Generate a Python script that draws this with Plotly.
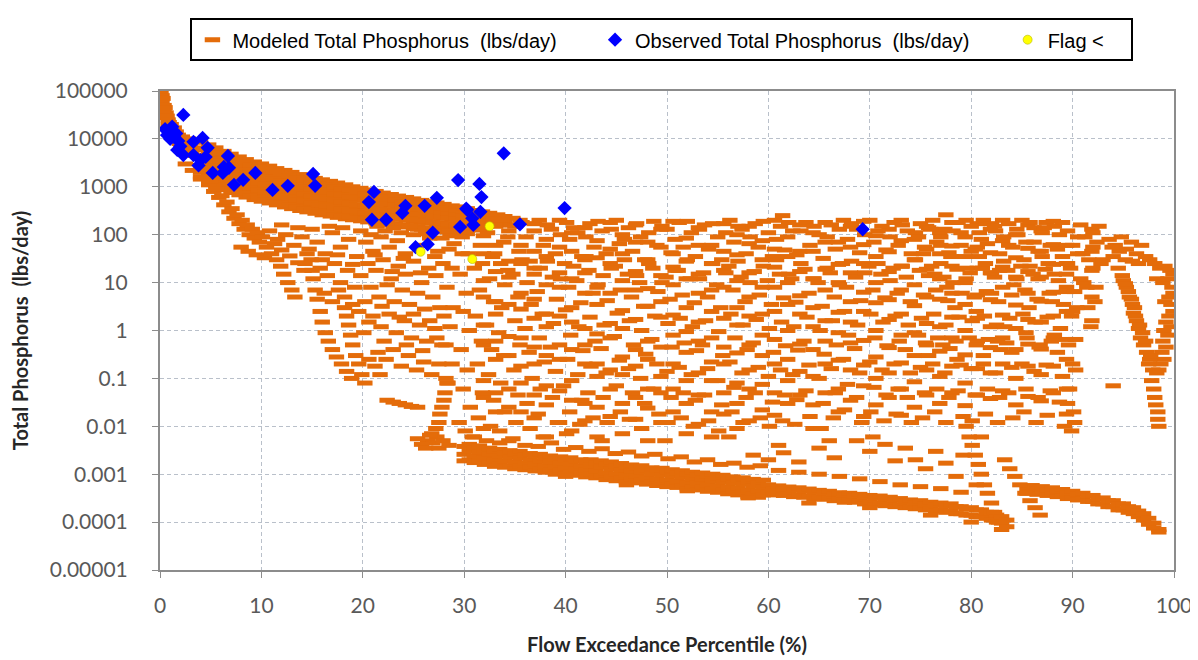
import plotly.graph_objects as go

# ---------------- Observed / flag data ----------------
OBS_X = [0.5, 0.7, 0.9, 1.0, 1.2, 1.4, 1.6, 1.8, 2.0, 2.3, 3.3, 4.2, 4.7, 1.7, 2.3, 3.3, 4.5, 3.8, 4.0, 5.2,
         6.7, 6.3, 6.8, 6.2, 7.3, 8.2, 9.4, 11.1, 12.6, 15.1, 15.3, 20.6, 21.1, 20.9, 22.3, 24.2, 23.9, 26.1,
         27.3, 26.9, 26.4, 25.2, 29.4, 30.3, 31.6, 30.9, 29.6, 30.8, 35.5, 39.9, 31.5, 31.7, 30.2, 33.9, 69.3]
OBS_Y = [16000, 12000, 14000, 10000, 18000, 11000, 13000, 9000, 7000, 31600, 8700, 10500, 6500, 5900, 4600,
         4600, 4200, 2800, 3600, 1950, 4400, 2600, 2500, 1950, 1100, 1400, 1950, 860, 1050, 1850, 1050, 480,
         780, 205, 205, 400, 285, 400, 590, 110, 63, 55, 1380, 330, 300, 160, 145, 220, 165, 360, 1150, 610,
         350, 5000, 130]
FLAG_X = [25.7, 32.5, 30.8]
FLAG_Y = [44, 150, 31]

# ---------------- Modeled data ----------------
MOD_HEAD = [(0.1, 90000), (0.2, 80000), (0.2, 60000), (0.3, 70000), (0.4, 50000), (0.4, 40000), (0.5, 45000),
            (0.6, 35000), (0.6, 28000), (0.7, 30000), (0.8, 25000), (0.8, 20000), (0.9, 22000), (1.0, 18000),
            (1.0, 15000), (1.1, 20000), (1.2, 16000), (1.3, 13000), (1.4, 17000), (1.5, 11000), (1.6, 14000),
            (1.7, 9000), (1.8, 12000), (1.9, 8000), (2.0, 10000), (2.1, 7000), (2.2, 11000), (2.4, 9000),
            (2.5, 6500), (2.6, 8000), (2.8, 10000), (2.9, 6000), (3.0, 7500), (3.1, 5000), (3.3, 9000),
            (3.4, 6000), (3.5, 4500)]

MOD_UPPER_BAND = [
    (4.0, [8500, 6000, 4000, 2800, 2000, 1450]), (4.8, [7500, 5000, 3500, 2400, 1700, 1250]),
    (5.5, [6500, 4500, 3000, 2000, 1400, 1000]), (6.3, [5500, 3800, 2600, 1800, 1200, 870]),
    (7.0, [4800, 3300, 2300, 1600, 1050, 760]), (7.8, [4200, 2900, 2000, 1400, 950, 680]),
    (8.5, [3700, 2600, 1800, 1250, 850, 610]), (9.3, [3300, 2300, 1600, 1100, 750, 540]),
    (10.0, [3000, 2100, 1450, 1000, 700, 500]), (10.8, [2700, 1900, 1300, 900, 640, 460]),
    (11.5, [2400, 1700, 1200, 820, 580, 420]), (12.3, [2200, 1550, 1100, 760, 530, 380]),
    (13.0, [2000, 1400, 1000, 700, 490, 350]), (13.8, [1800, 1300, 920, 650, 450, 320]),
    (14.5, [1650, 1200, 850, 600, 420, 300]), (15.3, [1500, 1100, 780, 550, 390, 280]),
    (16.0, [1400, 1000, 720, 510, 360, 260]), (16.8, [1300, 930, 670, 480, 340, 245]),
    (17.5, [1200, 870, 630, 450, 320, 230]), (18.3, [1100, 810, 590, 420, 300, 215]),
    (19.0, [1000, 760, 550, 400, 285, 205]), (19.8, [930, 700, 520, 380, 270, 195]),
    (20.5, [860, 650, 490, 360, 255, 185]), (21.3, [800, 610, 460, 340, 240, 175]),
    (22.0, [740, 570, 430, 320, 230, 165]), (22.8, [690, 530, 410, 300, 220, 160]),
    (23.5, [640, 500, 390, 290, 210, 150]), (24.3, [600, 470, 370, 275, 200, 145]),
    (25.0, [560, 440, 350, 260, 190, 135]), (25.8, [520, 420, 330, 250, 180, 130]),
    (26.5, [490, 400, 310, 240, 175, 125]), (27.3, [460, 380, 300, 230, 170, 120]),
    (28.0, [430, 360, 285, 220, 160, 115]), (28.8, [400, 340, 270, 210, 155, 110]),
    (29.5, [380, 320, 260, 200, 150, 108]), (30.3, [350, 300, 245, 190, 145, 105]),
    (31.0, [320, 270, 220, 170, 125]), (31.8, [300, 250, 200, 150]), (32.5, [280, 230, 180]),
    (33.3, [260, 210, 160]), (34.0, [240, 180]), (34.8, [220, 160]), (35.5, [200])
]
MOD_UPPER_BAND_MID = [
    (4.4, [6500, 4600, 3100, 2150, 1540]), (5.2, [5800, 3850, 2700, 1850, 1300]),
    (5.9, [5000, 3450, 2300, 1540, 1080]), (6.7, [4250, 2900, 2000, 1380, 920]),
    (7.4, [3700, 2550, 1770, 1230, 810]), (8.2, [3230, 2230, 1540, 1080, 730]),
    (8.9, [2850, 2000, 1380, 960, 650]), (9.7, [2540, 1770, 1230, 850, 580]),
    (10.4, [2300, 1620, 1120, 770, 540]), (11.2, [2080, 1460, 1000, 690, 490]),
    (11.9, [1850, 1310, 920, 630, 450]), (12.7, [1690, 1190, 850, 580, 410]),
    (13.4, [1540, 1080, 770, 540, 380]), (14.2, [1380, 1000, 710, 500, 350]),
    (14.9, [1270, 920, 650, 460, 320]), (15.7, [1150, 850, 600, 420, 300]),
    (16.4, [1080, 770, 550, 390, 280]), (17.2, [1000, 720, 520, 370, 260]),
    (17.9, [920, 670, 480, 350, 245]), (18.7, [850, 620, 450, 320, 230]),
    (19.4, [770, 580, 420, 310, 220]), (20.2, [720, 540, 400, 290, 210]),
    (20.9, [660, 500, 380, 280, 200]), (21.7, [620, 470, 350, 260, 185]),
    (22.4, [570, 440, 330, 250, 175]), (23.2, [530, 410, 315, 230, 170]),
    (23.9, [490, 385, 300, 220, 160]), (24.7, [460, 360, 285, 210, 155]),
    (25.4, [430, 340, 270, 200, 145]), (26.2, [400, 320, 255, 190, 140]),
    (26.9, [375, 310, 240, 185, 135]), (27.7, [355, 290, 230, 175, 130]),
    (28.4, [330, 275, 220, 170, 125]), (29.2, [310, 260, 210, 160, 120]),
    (29.9, [290, 245, 200, 155, 115]), (30.7, [270, 225, 185, 140]), (31.4, [250, 205, 165]),
    (32.2, [230, 190, 150]), (32.9, [215, 175]), (33.7, [200, 160]),
]

MOD_LEFT_STREAKS = [
    (2.5, 3000), (3.2, 2200), (4.0, 1600), (4.8, 1100), (5.3, 800), (5.8, 600), (6.3, 420), (6.8, 300),
    (7.3, 220), (7.8, 170), (8.3, 130), (8.8, 100), (9.3, 85), (9.8, 70), (8.0, 55), (8.7, 45), (9.5, 38),
    (10.3, 33), (10.5, 55), (11.0, 40), (11.5, 30), (11.9, 22), (12.2, 15), (12.6, 10), (13.0, 7), (13.3, 5),
    (14.5, 40), (14.9, 30), (15.0, 18), (15.1, 12), (15.3, 7), (15.5, 4.5), (15.8, 2.5), (16.0, 1.5),
    (16.3, 0.9), (16.6, 0.6), (17.0, 0.4), (17.4, 0.28), (17.9, 0.2), (18.4, 0.14), (18.9, 0.1),
    (18.2, 3), (18.4, 2), (18.6, 1.3), (18.8, 0.8), (19.0, 0.5), (19.3, 0.3), (19.6, 0.2), (19.9, 0.12),
    (20.2, 0.08), (20.6, 0.25), (21.2, 0.18), (21.7, 0.12),
    (22.4, 0.035), (23.0, 0.032), (23.6, 0.03), (24.2, 0.028), (24.8, 0.026), (25.4, 0.025),
    (28.3, 0.08), (28.1, 0.05), (28.0, 0.035), (27.8, 0.025), (27.6, 0.018), (27.5, 0.012), (27.2, 0.009),
    (26.8, 0.007), (27.3, 0.006), (26.4, 0.005), (26.9, 0.0045), (25.8, 0.0042), (26.2, 0.0035),
    (27.5, 0.0035), (25.4, 0.0055), (26.6, 0.0065), (27.9, 0.005), (28.5, 0.004),
    (5.0, 1300), (5.6, 900), (6.1, 650), (6.6, 480), (7.1, 350), (7.6, 260), (8.1, 200), (8.6, 160),
    (9.1, 130), (9.6, 110), (10.1, 90), (11.3, 65), (12.0, 48), (12.8, 36), (13.6, 26), (14.2, 18),
]

MOD_LEFT_CLOUD = [
    (15.8, 20), (16.5, 14), (17.2, 25), (17.8, 10), (18.5, 18), (19.2, 8), (19.8, 14), (16.2, 6), (17.0, 4),
    (17.6, 7), (18.2, 5), (19.0, 3.5), (19.6, 2.5), (20.2, 4),
    (10.8, 120), (11.6, 80), (12.4, 100), (13.2, 60), (14.0, 90), (14.7, 50), (15.5, 70), (16.3, 40),
    (17.0, 110), (17.8, 55), (18.6, 80), (19.4, 35), (12.0, 160), (13.6, 140), (15.0, 130), (16.7, 150),
    (18.0, 140), (19.8, 120), (14.3, 25), (16.0, 30), (17.5, 38), (19.0, 24),
    (20.3, 70), (21.0, 45), (21.8, 90), (22.6, 55), (23.4, 75), (24.2, 40), (25.0, 100), (25.8, 60),
    (26.6, 85), (27.4, 45), (28.2, 120), (29.0, 65), (29.8, 40), (20.8, 100), (22.2, 120), (23.8, 110),
    (25.4, 130), (27.0, 115), (28.6, 95), (21.4, 150), (23.0, 140), (24.6, 150), (26.2, 105), (27.8, 85),
    (20.5, 25), (21.3, 18), (22.0, 30), (22.8, 12), (23.5, 22), (24.2, 15), (25.0, 28), (25.8, 10),
    (26.5, 20), (27.2, 14), (27.9, 25), (20.8, 8), (21.6, 5), (22.4, 9), (23.1, 4), (23.9, 7), (24.6, 3.5),
    (25.4, 6), (26.1, 2.8), (26.9, 5), (27.6, 3), (21.0, 2), (21.8, 1.2), (22.6, 2.2), (23.3, 0.9),
    (24.1, 1.6), (24.8, 0.7), (25.6, 1.3), (26.3, 0.6), (27.1, 1.1), (27.8, 0.5), (21.5, 0.35), (22.3, 0.25),
    (23.0, 0.4), (23.8, 0.18), (24.5, 0.3), (25.3, 0.15), (26.0, 0.22), (26.8, 0.12), (27.5, 0.2),
    (28.2, 0.1), (28.5, 50), (28.8, 20), (28.3, 8), (28.9, 3), (28.6, 1.2), (28.2, 0.5), (28.8, 0.2),
    (28.4, 0.08), (29.8, 90), (30.4, 40), (29.6, 15), (30.2, 6), (29.9, 2.5), (30.5, 1), (29.7, 0.4),
    (30.3, 0.15), (29.9, 0.06), (30.6, 0.025), (29.5, 0.012), (30.1, 0.008),
    (21.2, 38), (22.9, 17), (24.0, 32), (25.7, 16), (27.1, 35), (21.9, 3.2), (23.6, 1.9), (25.0, 2.2),
    (26.6, 1.6), (28.0, 2), (22.1, 0.6), (24.3, 0.5), (25.9, 0.38), (27.3, 0.7), (20.1, 0.9), (20.6, 1.5),
]

MOD_CLOUD = [
    (31.2, 180), (31.6, 60), (31.0, 20), (31.5, 7), (31.1, 2), (31.7, 0.6), (31.3, 0.2), (31.8, 0.05), (31.4, 0.015), (31.0, 0.006),
    (32.3, 110), (32.8, 35), (32.5, 12), (32.9, 4), (32.2, 1.3), (32.7, 0.4), (32.4, 0.12), (32.9, 0.035), (32.6, 0.01),
    (33.5, 200), (33.9, 70), (33.6, 25), (34.0, 9), (33.7, 3), (33.4, 0.9), (33.9, 0.3), (33.6, 0.08), (34.0, 0.02), (33.5, 0.008),
    (35.0, 150), (35.4, 45), (34.8, 15), (35.3, 5), (35.0, 1.6), (35.5, 0.5), (34.9, 0.15), (35.3, 0.045), (35.1, 0.012),
    (36.1, 90), (36.5, 28), (36.2, 10), (36.6, 3.5), (36.0, 1.1), (36.4, 0.35), (36.7, 0.1), (36.2, 0.03), (36.5, 0.009),
    (37.4, 200), (37.8, 60), (37.5, 20), (37.2, 6.5), (37.7, 2.2), (37.4, 0.7), (37.9, 0.22), (37.5, 0.06), (37.3, 0.018), (37.8, 0.006),
    (38.6, 130), (39.0, 40), (38.7, 13), (39.1, 4.5), (38.8, 1.4), (38.5, 0.45), (39.0, 0.14), (38.7, 0.04), (39.2, 0.012),
    (40.1, 180), (40.4, 80), (39.9, 25), (40.3, 8), (40.0, 2.7), (40.5, 0.8), (40.2, 0.25), (39.8, 0.07), (40.4, 0.02), (40.1, 0.007),
    (41.2, 110), (41.6, 35), (41.1, 11), (41.5, 3.8), (41.3, 1.2), (41.7, 0.38), (41.2, 0.12), (41.6, 0.035), (41.4, 0.011),
    (42.4, 170), (42.8, 55), (42.3, 18), (42.7, 6), (42.4, 1.9), (42.9, 0.6), (42.5, 0.18), (42.2, 0.05), (42.7, 0.015),
    (43.6, 120), (44.0, 40), (43.7, 14), (44.1, 4.2), (43.8, 1.3), (43.5, 0.42), (44.0, 0.13), (43.7, 0.04), (44.1, 0.012), (43.6, 0.005),
    (45.0, 200), (45.3, 65), (44.9, 22), (45.4, 7), (45.1, 2.3), (44.8, 0.75), (45.3, 0.24), (45.0, 0.07), (45.4, 0.02),
    (46.2, 140), (46.6, 45), (46.1, 15), (46.5, 5), (46.3, 1.6), (46.7, 0.5), (46.2, 0.16), (46.6, 0.05), (46.3, 0.014),
    (47.4, 90), (47.8, 30), (47.3, 10), (47.7, 3.2), (47.5, 1), (47.9, 0.32), (47.4, 0.1), (47.8, 0.03), (47.5, 0.009),
    (48.7, 190), (49.0, 60), (48.6, 20), (49.1, 6.5), (48.8, 2), (48.5, 0.65), (49.0, 0.2), (48.7, 0.06), (49.2, 0.018),
    (50.0, 130), (50.4, 42), (49.9, 13), (50.3, 4.5), (50.1, 1.4), (50.5, 0.45), (50.0, 0.14), (50.4, 0.04), (50.1, 0.012), (49.8, 0.005),
    (51.2, 180), (51.6, 55), (51.1, 18), (51.5, 5.5), (51.3, 1.8), (51.7, 0.55), (51.2, 0.17), (51.6, 0.05), (51.4, 0.015),
    (52.4, 110), (52.8, 35), (52.3, 12), (52.7, 3.8), (52.5, 1.2), (52.9, 0.38), (52.4, 0.12), (52.8, 0.035), (52.6, 0.01),
    (53.7, 160), (54.1, 50), (53.6, 16), (54.0, 5), (53.8, 1.6), (53.5, 0.5), (54.0, 0.16), (53.7, 0.045), (54.1, 0.013),
    (55.0, 90), (55.4, 30), (54.9, 9), (55.3, 3), (55.1, 0.95), (55.5, 0.3), (55.0, 0.09), (55.4, 0.028), (55.1, 0.008),
    (56.2, 200), (56.6, 70), (56.1, 22), (56.5, 7), (56.3, 2.2), (56.7, 0.7), (56.2, 0.22), (56.6, 0.065), (56.4, 0.02), (56.1, 0.006),
    (57.4, 130), (57.8, 40), (57.3, 13), (57.7, 4), (57.5, 1.3), (57.9, 0.4), (57.4, 0.13), (57.8, 0.04), (57.5, 0.012),
    (58.7, 170), (59.0, 55), (58.6, 17), (59.1, 5.5), (58.8, 1.7), (58.5, 0.55), (59.0, 0.17), (58.7, 0.05), (59.2, 0.015),
    (60.0, 110), (60.4, 35), (59.9, 11), (60.3, 3.5), (60.1, 1.1), (60.5, 0.35), (60.0, 0.11), (60.4, 0.032), (60.1, 0.01),
    (61.4, 250), (61.2, 150), (61.6, 48), (61.1, 15), (61.5, 4.8), (61.3, 1.5), (61.7, 0.48), (61.2, 0.15), (61.6, 0.045), (61.4, 0.013), (61.0, 0.004),
    (62.4, 120), (62.8, 38), (62.3, 12), (62.7, 3.9), (62.5, 1.2), (62.9, 0.39), (62.4, 0.12), (62.8, 0.036), (62.6, 0.011),
    (63.7, 180), (64.1, 60), (63.6, 19), (64.0, 6), (63.8, 1.9), (63.5, 0.6), (64.0, 0.19), (63.7, 0.055), (64.1, 0.016),
    (65.0, 100), (65.4, 32), (64.9, 10), (65.3, 3.2), (65.1, 1), (65.5, 0.32), (65.0, 0.1), (65.4, 0.03), (65.2, 0.009),
    (66.2, 160), (66.6, 50), (66.1, 16), (66.5, 5), (66.3, 1.6), (66.7, 0.5), (66.2, 0.16), (66.6, 0.05), (66.4, 0.015), (66.0, 0.005),
    (67.4, 200), (67.8, 80), (67.3, 25), (67.7, 8), (67.5, 2.5), (67.9, 0.8), (67.4, 0.25), (67.8, 0.075), (67.5, 0.022),
    (68.7, 130), (69.0, 42), (68.6, 13), (69.1, 4.2), (68.8, 1.3), (68.5, 0.42), (69.0, 0.13), (68.7, 0.04), (69.2, 0.012),
    (70.0, 200), (70.4, 70), (69.9, 22), (70.3, 7), (70.1, 2.2), (70.5, 0.7), (70.0, 0.22), (70.4, 0.065), (70.1, 0.02), (70.3, 0.006),
    (71.2, 150), (71.6, 48), (71.1, 15), (71.5, 4.8), (71.3, 1.5), (71.7, 0.48), (71.2, 0.15), (71.6, 0.045), (71.4, 0.013),
    (72.4, 180), (72.8, 60), (72.3, 20), (72.7, 6), (72.5, 2), (72.9, 0.6), (72.4, 0.2), (72.8, 0.06), (72.6, 0.018),
    (73.7, 120), (74.1, 40), (73.6, 13), (74.0, 4), (73.8, 1.3), (73.5, 0.4), (74.0, 0.13), (73.7, 0.04), (74.1, 0.012),
    (75.0, 170), (75.4, 55), (74.9, 18), (75.3, 5.5), (75.1, 1.8), (75.5, 0.55), (75.0, 0.17), (75.4, 0.05), (75.2, 0.015),
    (76.2, 200), (76.6, 70), (76.1, 22), (76.5, 7), (76.3, 2.2), (76.7, 0.7), (76.2, 0.2), (76.6, 0.06), (76.4, 0.02),
    (77.5, 260), (77.4, 130), (77.8, 42), (77.3, 13), (77.7, 4.2), (77.5, 1.3), (77.9, 0.42), (77.4, 0.13), (77.8, 0.04), (77.5, 0.012),
    (78.7, 180), (79.0, 60), (78.6, 19), (79.1, 6), (78.8, 1.9), (78.5, 0.6), (79.0, 0.19), (78.7, 0.055), (79.2, 0.016),
    (80.0, 150), (80.4, 50), (79.9, 16), (80.3, 5), (80.1, 1.6), (80.5, 0.5), (80.0, 0.16), (80.4, 0.045), (80.1, 0.013),
    (81.2, 200), (81.6, 65), (81.1, 20), (81.5, 6.5), (81.3, 2), (81.7, 0.65), (81.2, 0.2), (81.6, 0.06), (81.4, 0.018), (81.0, 0.006),
    (82.4, 120), (82.8, 40), (82.3, 13), (82.7, 4), (82.5, 1.3), (82.9, 0.4), (82.4, 0.13), (82.8, 0.04), (82.6, 0.012),
    (83.7, 170), (84.1, 55), (83.6, 18), (84.0, 5.5), (83.8, 1.8), (83.5, 0.55), (84.0, 0.17), (83.7, 0.05), (84.1, 0.015),
    (85.0, 200), (85.4, 70), (84.9, 22), (85.3, 7), (85.1, 2.2), (85.5, 0.7), (85.0, 0.2), (85.4, 0.06), (85.2, 0.02),
    (86.2, 140), (86.6, 45), (86.1, 15), (86.5, 4.5), (86.3, 1.5), (86.7, 0.45), (86.2, 0.14), (86.6, 0.04), (86.4, 0.012),
    (87.4, 180), (87.8, 60), (87.3, 19), (87.7, 6), (87.5, 1.9), (87.9, 0.6), (87.4, 0.19), (87.8, 0.055), (87.5, 0.017),
    (88.7, 100), (89.0, 35), (88.6, 11), (89.1, 3.5), (88.8, 1.1), (88.5, 0.35), (89.0, 0.11), (88.7, 0.032), (89.2, 0.01),
    (90.0, 60), (89.8, 20), (90.2, 6.5), (89.9, 2), (90.3, 0.65), (90.0, 0.2), (89.7, 0.06), (90.1, 0.02), (89.9, 0.008),
    (91.2, 90), (91.6, 30), (91.1, 10), (91.5, 3), (92.4, 70), (92.8, 25), (92.3, 8), (94.0, 0.07),
    (89.6, 0.5), (90.3, 0.15), (89.5, 0.03), (90.2, 0.012), (90.4, 3), (89.4, 8), (90.5, 40),
]

MOD_CLOUD_2 = [
    (31.9, [95, 40, 11, 5, 1.3, 0.5, 0.09, 0.04, 0.009]), (33.1, [150, 60, 17, 4, 2.2, 0.6, 0.25, 0.05, 0.02]),
    (34.4, [120, 28, 13, 3.5, 0.75, 0.3, 0.06, 0.025, 0.005]), (35.6, [60, 25, 6, 2.8, 0.7, 0.18, 0.08, 0.02]),
    (36.9, [170, 45, 20, 4.5, 1.8, 0.45, 0.2, 0.045, 0.015]), (38.1, [80, 35, 9, 2.2, 1.2, 0.3, 0.07, 0.028, 0.006]),
    (39.4, [200, 55, 16, 8, 2, 0.5, 0.25, 0.055, 0.012]), (40.6, [110, 45, 12, 3, 1.5, 0.4, 0.09, 0.035, 0.008]),
    (41.9, [140, 30, 16, 6, 1.1, 0.5, 0.2, 0.03, 0.013]), (43.1, [75, 33, 8, 3.5, 0.85, 0.2, 0.11, 0.025, 0.006]),
    (44.4, [180, 50, 25, 6, 1.4, 0.7, 0.15, 0.06, 0.016]), (45.6, [100, 40, 11, 2.6, 1.1, 0.28, 0.12, 0.03, 0.007]),
    (46.9, [160, 70, 17, 7, 1.7, 0.4, 0.18, 0.04, 0.014]), (48.1, [70, 30, 7.5, 3.2, 0.6, 0.25, 0.06, 0.024, 0.005]),
    (49.4, [130, 55, 14, 4, 1.9, 0.45, 0.11, 0.05, 0.012]), (50.6, [190, 40, 21, 9, 2.1, 0.8, 0.2, 0.06, 0.02]),
    (51.9, [85, 28, 12, 3, 0.95, 0.35, 0.09, 0.03, 0.007]), (53.1, [140, 60, 15, 6, 1.5, 0.6, 0.13, 0.045, 0.011]),
    (54.4, [60, 25, 7, 2.5, 0.7, 0.22, 0.09, 0.02, 0.006]), (55.6, [170, 45, 18, 8, 1.8, 0.45, 0.2, 0.05, 0.018]),
    (56.9, [100, 38, 11, 3, 1.3, 0.34, 0.08, 0.03, 0.009]), (58.1, [150, 65, 16, 5, 2, 0.5, 0.15, 0.06, 0.013]),
    (59.4, [75, 30, 8, 2.2, 0.8, 0.3, 0.075, 0.022]), (60.6, [200, 50, 21, 8, 2.5, 0.65, 0.2, 0.05, 0.017]),
    (61.9, [90, 35, 10, 3.5, 1, 0.25, 0.09, 0.03]), (63.1, [160, 45, 17, 5.3, 2.2, 0.52, 0.14, 0.045]),
    (64.4, [110, 45, 12, 3, 1.2, 0.4, 0.11, 0.028, 0.009]), (65.6, [180, 70, 19, 7, 1.6, 0.6, 0.2, 0.05]),
    (66.9, [70, 24, 10, 2.4, 0.9, 0.24, 0.06, 0.02]), (68.1, [150, 55, 16, 4, 1.5, 0.55, 0.15, 0.035]),
    (69.4, [190, 62, 25, 6.3, 2.5, 0.62, 0.19, 0.07, 0.016]), (70.6, [95, 35, 10, 3.8, 1, 0.28, 0.1, 0.028]),
    (71.9, [130, 44, 17, 4.4, 1.7, 0.44, 0.13, 0.04]), (73.1, [200, 75, 22, 7, 2.2, 0.8, 0.21, 0.06, 0.017]),
    (74.4, [80, 30, 9, 3.3, 0.9, 0.3, 0.085, 0.025]), (75.6, [150, 50, 19, 5, 1.4, 0.5, 0.15, 0.045]),
    (76.9, [110, 40, 12, 4.5, 1.2, 0.37, 0.11, 0.03]), (78.1, [180, 58, 22, 6, 1.9, 0.7, 0.18, 0.05]),
    (79.4, [90, 35, 10, 3.5, 1, 0.31, 0.08, 0.027]), (80.6, [170, 55, 20, 5.5, 1.8, 0.6, 0.16, 0.045]),
    (81.9, [130, 42, 16, 4.4, 1.2, 0.44, 0.13, 0.038]), (83.1, [200, 75, 21, 8, 2.1, 0.7, 0.2, 0.055]),
    (84.4, [100, 33, 13, 3.4, 1.1, 0.4, 0.1, 0.028]), (85.6, [160, 52, 17, 6, 1.7, 0.52, 0.18, 0.042]),
    (86.9, [120, 45, 13, 4.1, 1.5, 0.41, 0.12, 0.034]), (88.1, [190, 62, 24, 6.3, 2, 0.7, 0.18, 0.05]),
    (89.4, [60, 25, 6.5, 2.5, 0.65, 0.25, 0.06, 0.018]), (91.9, [130, 45, 18, 5, 1.6]),
]

MOD_RIGHT_DENSE = [
    (74.8, 90), (75.3, 40), (76.0, 130), (76.4, 15), (77.0, 60), (77.6, 8), (78.0, 35), (78.4, 3), (79.0, 110),
    (79.5, 12), (80.0, 45), (80.5, 2.5), (81.0, 80), (81.4, 25), (82.0, 6), (82.3, 150), (82.8, 18), (83.3, 1.2),
    (83.7, 60), (84.2, 9), (84.6, 100), (85.2, 30), (85.7, 3), (86.2, 70), (86.6, 12), (87.2, 140), (87.6, 25),
    (88.0, 4), (88.5, 50), (89.0, 180), (89.4, 15), (90.0, 2.5), (90.5, 90), (91.0, 40), (91.4, 8), (92.0, 55),
    (92.6, 150), (93.0, 30), (92.2, 4), (91.8, 1.2), (88.2, 0.8), (86.8, 0.5), (85.4, 0.9), (84.0, 0.35),
    (82.6, 0.6), (81.2, 0.3), (79.8, 0.7), (78.6, 0.25), (77.2, 0.5), (75.8, 0.3), (74.8, 0.8),
]

MOD_CLOUD_TOP = [
    (31.8, 130), (33.0, 160), (34.3, 90), (35.7, 180), (36.9, 120), (38.2, 160), (39.5, 100), (40.8, 140),
    (42.0, 90), (43.2, 190), (44.5, 130), (45.8, 80), (47.0, 170), (48.2, 110), (49.5, 150), (50.8, 80),
    (52.0, 190), (53.2, 130), (54.5, 170), (55.8, 110), (57.0, 150), (58.2, 90), (59.5, 190), (60.8, 80),
    (62.0, 180), (63.2, 120), (64.5, 150), (65.8, 90), (67.0, 130), (68.2, 170), (69.5, 100), (70.8, 120),
    (72.0, 90), (73.2, 160), (74.5, 110), (75.8, 140), (77.0, 90), (78.2, 120), (79.5, 200), (80.8, 110),
    (82.0, 170), (83.2, 90), (84.5, 130), (85.8, 180), (87.0, 110), (88.2, 150), (89.5, 120), (90.8, 160),
    (92.0, 110),
    (31.8, 25), (33.0, 40), (34.3, 18), (35.7, 30), (36.9, 15), (38.2, 28), (39.5, 12), (40.8, 22), (42.0, 35),
    (43.2, 9), (44.5, 20), (45.8, 30), (47.0, 14), (48.2, 25), (49.5, 10), (50.8, 18), (52.0, 30), (53.2, 12),
    (54.5, 25), (55.8, 16), (57.0, 28), (58.2, 10), (59.5, 22), (60.8, 30), (62.0, 15), (63.2, 25), (64.5, 12),
    (65.8, 20), (67.0, 9), (68.2, 28), (69.5, 16), (70.8, 25), (72.0, 11), (73.2, 22), (74.5, 30), (75.8, 14),
    (77.0, 25), (78.2, 10), (79.5, 20), (80.8, 35), (82.0, 16), (83.2, 28), (84.5, 12), (85.8, 22), (87.0, 35),
    (88.2, 15), (89.5, 25), (90.8, 12), (92.0, 20),
]

MOD_LOWER_BAND = [
    (30, [0.0038, 0.0026, 0.0019]), (30.5, [0.0042, 0.0031, 0.002]), (31, [0.0035, 0.0024, 0.00175]),
    (31.5, [0.0039, 0.0029, 0.0019]), (32, [0.0032, 0.0022, 0.0016]), (32.5, [0.0035, 0.0026, 0.0017]),
    (33, [0.003, 0.002, 0.00146]), (33.5, [0.0033, 0.0024, 0.0016]), (34, [0.0028, 0.0019, 0.0014]),
    (34.5, [0.0031, 0.0023, 0.0015]), (35, [0.0027, 0.0018, 0.0013]), (35.5, [0.003, 0.0022, 0.0015]),
    (36, [0.0025, 0.0017, 0.00124]), (36.5, [0.0027, 0.002, 0.0014]), (37, [0.0024, 0.0016, 0.00117]),
    (37.5, [0.0026, 0.0019, 0.0013]), (38, [0.0022, 0.0015, 0.0011]), (38.5, [0.0024, 0.0018, 0.0012]),
    (39, [0.0021, 0.0014, 0.001]), (39.5, [0.0023, 0.0017, 0.0012]), (40, [0.002, 0.00135, 0.00099]),
    (40.5, [0.0022, 0.0016, 0.0011]), (41, [0.0019, 0.0013, 0.00095]), (41.5, [0.002, 0.0015, 0.00105]),
    (42, [0.0018, 0.0012, 0.00088]), (42.5, [0.002, 0.00145, 0.001]), (43, [0.0017, 0.00115, 0.00084]),
    (43.5, [0.0019, 0.0014, 0.00093]), (44, [0.0016, 0.00106, 0.00077]), (44.5, [0.0018, 0.0013, 0.00087]),
    (45, [0.0015, 0.001, 0.00073]), (45.5, [0.00167, 0.00123, 0.00083]), (46, [0.0014, 0.00095, 0.00069]),
    (46.5, [0.00156, 0.00115, 0.00078]), (47, [0.00135, 0.0009, 0.00066]), (47.5, [0.0015, 0.0011, 0.00074]),
    (48, [0.00125, 0.00085, 0.00062]), (48.5, [0.00136, 0.001, 0.00069]), (49, [0.0012, 0.0008, 0.00058]),
    (49.5, [0.00133, 0.00098, 0.00066]), (50, [0.0011, 0.00075, 0.00055]), (50.5, [0.00124, 0.00091, 0.00062]),
    (51, [0.00107, 0.00072, 0.00053]), (51.5, [0.00118, 0.00087, 0.00058]), (52, [0.001, 0.00067, 0.00049]),
    (52.5, [0.0011, 0.00081, 0.00055]), (53, [0.00096, 0.00065, 0.00047]), (53.5, [0.00106, 0.00078, 0.00053]),
    (54, [0.0009, 0.0006, 0.00044]), (54.5, [0.001, 0.00073, 0.00049]), (55, [0.00085, 0.00057, 0.00042]),
    (55.5, [0.00095, 0.0007, 0.00047]), (56, [0.0008, 0.00054, 0.00039]), (56.5, [0.00088, 0.00065, 0.00044]),
    (57, [0.00076, 0.00051, 0.00037]), (57.5, [0.00084, 0.00062, 0.00042]), (58, [0.0007, 0.00047, 0.00034]),
    (58.5, [0.00078, 0.00057, 0.00039]), (59, [0.00067, 0.00045, 0.00033]), (59.5, [0.00075, 0.00055, 0.00037]),
    (60, [0.0006, 0.00043]), (60.5, [0.0005, 0.00037]), (61, [0.00057, 0.00041]), (61.5, [0.00049, 0.00036]),
    (62, [0.00054, 0.00039]), (62.5, [0.00047, 0.00034]), (63, [0.00052, 0.00037]), (63.5, [0.00045, 0.00033]),
    (64, [0.00049, 0.00035]), (64.5, [0.00043, 0.00031]), (65, [0.00046, 0.00034]), (65.5, [0.0004, 0.0003]),
    (66, [0.00044, 0.00032]), (66.5, [0.00038, 0.00028]), (67, [0.00041, 0.0003]), (67.5, [0.00036, 0.00026]),
    (68, [0.0004, 0.00029]), (68.5, [0.00035, 0.00026]), (69, [0.00038, 0.00027]), (69.5, [0.00033, 0.00024]),
    (70, [0.00036, 0.00026]), (70.5, [0.00032, 0.00023]), (71, [0.00035, 0.00025]), (71.5, [0.0003, 0.00022]),
    (72, [0.00033, 0.00024]), (72.5, [0.00029, 0.00021]), (73, [0.00031, 0.00023]), (73.5, [0.00027, 0.0002]),
    (74, [0.00029, 0.00021]), (74.5, [0.00025, 0.00019]), (75, [0.00028, 0.0002]), (75.5, [0.00024, 0.00018]),
    (76, [0.00026, 0.00019]), (76.5, [0.00023, 0.00017]), (77, [0.00025, 0.00018]), (77.5, [0.00022, 0.00016]),
    (78, [0.00024, 0.00017]), (78.5, [0.00021, 0.00015]), (79, [0.00021, 0.00015]), (79.5, [0.00019, 0.00014]),
    (80, [0.0002, 0.00014]), (80.5, [0.00018, 0.00013]), (81, [0.00018, 0.00013]), (81.5, [0.00016, 0.00012]),
    (82, [0.00016, 0.00011]), (82.5, [0.00014, 0.0001]), (83, [0.00013, 0.000095]), (83.5, [0.00011, 0.00008]),
    (85.5, [0.0005, 0.0004]), (86, [0.00058, 0.00043]), (86.5, [0.00049, 0.00038]), (87, [0.00055, 0.0004]),
    (87.5, [0.00047, 0.00036]), (88, [0.00052, 0.00038]), (88.5, [0.00044, 0.00034]), (89, [0.00048, 0.00035]),
    (89.5, [0.00041, 0.00031]), (90, [0.00044, 0.00032]), (90.5, [0.00038, 0.00029]), (91, [0.0004, 0.0003]),
    (91.5, [0.00035, 0.00027]), (92, [0.00036, 0.00027]), (92.5, [0.00031, 0.00024]), (93, [0.00032, 0.00024]),
    (93.5, [0.00028, 0.00021]), (94, [0.00028, 0.00021]), (94.5, [0.00024, 0.00018]), (95, [0.00024, 0.00018]),
    (95.5, [0.00021, 0.00016]), (96, [0.0002, 0.00015]), (96.5, [0.00017, 0.00013]), (97, [0.00015, 0.00011]),
    (97.5, [0.00012, 0.00009]), (98, [0.000095, 0.000075]), (98.5, [0.00007, 0.000062]),
]

MOD_BETWEEN = [
    (30.8, 0.006), (32.2, 0.005), (33.5, 0.0045), (34.8, 0.0055), (36.0, 0.004), (37.3, 0.0038), (38.6, 0.0045),
    (39.8, 0.0033), (41.0, 0.0036), (42.3, 0.003), (43.6, 0.0034), (44.9, 0.0027), (46.2, 0.0029), (47.5, 0.0024),
    (48.8, 0.0026), (50.1, 0.0021), (51.4, 0.0023), (52.7, 0.0018), (54.0, 0.002), (55.3, 0.0016), (56.6, 0.0017),
    (57.9, 0.0014), (59.2, 0.0015), (61, 0.0012), (63, 0.0011), (65, 0.001), (67, 0.0009), (69, 0.0008),
    (71, 0.0007), (73, 0.0006), (75, 0.00055), (77, 0.0005), (79, 0.00042),
    (40, 0.0009), (46, 0.0006), (52, 0.00045), (58, 0.00032), (64, 0.00025), (70, 0.0002), (76, 0.00014), (80, 0.0001),
    (58.5, 0.0025), (60, 0.002), (61.5, 0.0028), (63, 0.0018), (65, 0.0035), (66.5, 0.0022), (68.7, 0.005),
    (70, 0.003), (71.5, 0.0042), (72.5, 0.0019), (73.5, 0.0035), (74.5, 0.002), (75.5, 0.0013), (76.5, 0.003),
    (77.5, 0.0017), (78.5, 0.0009), (79.2, 0.0025), (80.5, 0.0006),
    (79.5, 0.01), (79.8, 0.006), (80.1, 0.004), (80.4, 0.0025), (80.7, 0.0016), (81.0, 0.001), (81.3, 0.0006),
    (81.6, 0.0004), (82.0, 0.00025), (82.3, 0.00016), (82.7, 0.0001), (83.0, 0.00007),
    (83.3, 0.002), (83.8, 0.0013), (84.3, 0.0009), (84.8, 0.0006), (85.3, 0.0004), (85.8, 0.00028),
    (86.3, 0.0002), (86.8, 0.00014),
]

MOD_RIGHT_V = [
    (93.6, 80), (94.2, 60), (94.8, 90), (95.3, 50), (95.8, 70), (96.3, 40), (96.8, 60), (97.2, 35), (94.0, 35),
    (94.6, 45), (95.2, 30), (95.9, 28), (96.5, 25), (93.9, 55),
    (97.6, 30), (98.1, 25), (98.6, 20), (99.1, 22), (99.6, 18), (99.9, 15), (98.3, 12), (98.9, 10), (99.4, 12),
    (99.8, 8), (99.9, 6), (99.5, 5), (99.1, 4), (99.7, 3.5), (99.9, 2.5), (99.5, 2), (99.2, 1.5), (99.7, 1.2),
    (99.0, 1), (99.4, 0.8), (98.9, 0.6), (99.2, 0.45), (98.8, 0.35), (99.0, 0.25), (98.7, 0.2), (98.5, 0.15),
    (95.0, 11), (95.3, 8), (95.6, 5), (95.9, 3.5), (96.0, 2.3), (96.3, 1.6), (96.5, 1.1), (96.7, 0.7),
    (97.0, 0.5), (97.3, 0.35), (97.6, 0.25), (97.5, 0.2), (97.9, 0.15), (98.3, 0.13), (97.8, 0.09),
    (98.0, 0.06), (98.1, 0.04), (98.2, 0.028), (98.4, 0.02), (98.4, 0.014), (98.5, 0.01),
    (94.5, 20), (94.9, 14), (95.2, 9.5), (95.5, 6.5), (95.8, 4.5), (96.1, 3), (96.2, 2), (96.6, 1.3),
    (96.9, 0.9), (97.2, 0.6), (97.7, 0.3),
]

Y_TICK_VALS = [1e-5, 1e-4, 1e-3, 1e-2, 1e-1, 1, 10, 100, 1000, 10000, 100000]
Y_TICK_TEXT = ["0.00001", "0.0001", "0.001", "0.01", "0.1", "1", "10", "100", "1000", "10000", "100000"]
X_TICK_VALS = [0, 10, 20, 30, 40, 50, 60, 70, 80, 90, 100]

# ---------------- Assemble modeled points ----------------
pairs = []
pairs += MOD_HEAD
for rows in (MOD_UPPER_BAND, MOD_UPPER_BAND_MID, MOD_CLOUD_2, MOD_LOWER_BAND):
    for x, ys in rows:
        pairs += [(x, y) for y in ys]
pairs += MOD_LEFT_STREAKS + MOD_LEFT_CLOUD + MOD_CLOUD + MOD_CLOUD_TOP + MOD_RIGHT_DENSE
pairs += MOD_BETWEEN + MOD_RIGHT_V
MOD_X = [p[0] for p in pairs]
MOD_Y = [p[1] for p in pairs]

ORANGE = "#E46C0A"
NB = "\u00a0"

fig = go.Figure()
fig.add_trace(go.Scatter(
    x=MOD_X, y=MOD_Y, mode="markers",
    name="Modeled Total Phosphorus" + NB * 2 + "(lbs/day)" + NB * 6,
    marker=dict(symbol="line-ew", size=11, color=ORANGE, line=dict(width=5, color=ORANGE)),
))
fig.add_trace(go.Scatter(
    x=OBS_X, y=OBS_Y, mode="markers",
    name="Observed Total Phosphorus" + NB * 2 + "(lbs/day)" + NB * 6,
    marker=dict(symbol="diamond", size=11, color="#0000FF", line=dict(width=0)),
))
fig.add_trace(go.Scatter(
    x=FLAG_X, y=FLAG_Y, mode="markers", name="Flag <" + NB * 4,
    marker=dict(symbol="circle", size=9, color="#FFFF00", line=dict(width=0.6, color="#B8B800")),
))

GRID = "#B9C0CA"
AXIS = "#8C8C8C"
TICKFONT = dict(family="Lato, Carlito, sans-serif", size=21, color="#595959")

# the page body adds an 8px offset, so margins are shifted by 8px to place the plot area
fig.update_layout(
    width=1198, height=660,
    margin=dict(l=152, r=32, t=83, b=98, autoexpand=False),
    paper_bgcolor="white", plot_bgcolor="white",
    showlegend=True,
    legend=dict(
        orientation="h", x=0.495, xanchor="center", y=1.152, yanchor="top",
        bordercolor="black", borderwidth=2, bgcolor="white",
        font=dict(family="Liberation Sans Narrow, Arial Narrow, Liberation Sans, sans-serif", size=20, color="black"),
        itemwidth=30,
    ),
    xaxis=dict(
        range=[0, 100], tickvals=X_TICK_VALS, tickfont=TICKFONT, automargin=False,
        showgrid=True, gridcolor=GRID, griddash="4px,3px", gridwidth=1,
        showline=True, linecolor=AXIS, linewidth=2, mirror=True,
        ticks="outside", ticklen=6, tickcolor=AXIS, zeroline=False, ticklabelstandoff=10,
        title=dict(text="<b>Flow Exceedance Percentile (%)</b>", standoff=22,
                   font=dict(family="Lato, sans-serif", size=20, color="#262626")),
    ),
    yaxis=dict(
        type="log", range=[-5, 5], tickvals=Y_TICK_VALS, ticktext=Y_TICK_TEXT, tickfont=TICKFONT,
        automargin=False,
        showgrid=True, gridcolor=GRID, griddash="4px,3px", gridwidth=1,
        showline=True, linecolor=AXIS, linewidth=2, mirror=True,
        ticks="outside", ticklen=6, tickcolor=AXIS, zeroline=False, ticklabelstandoff=20,
        title=dict(text="<b>Total Phosphorus" + NB * 2 + "(lbs/day)</b>", standoff=18,
                   font=dict(family="Lato, sans-serif", size=20, color="#262626")),
    ),
)

fig.write_html("out.html")
